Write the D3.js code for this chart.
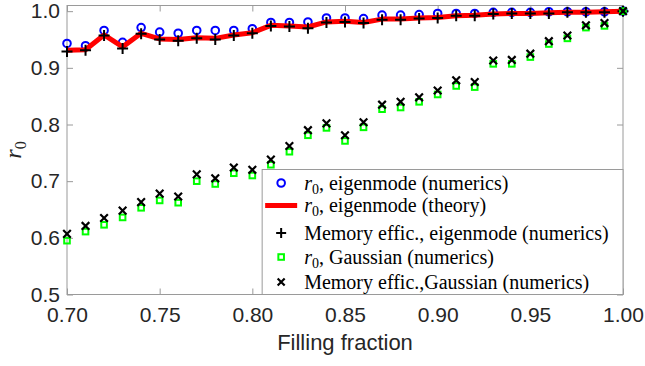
<!DOCTYPE html>
<html>
<head>
<meta charset="utf-8">
<script src="https://cdn.jsdelivr.net/npm/d3@7"></script>
<style>
  body { margin: 0; background: #fff; }
  svg { display: block; }
</style>
</head>
<body>
<div id="chart"></div>
<script>
// filling fraction (x values)
var fillFraction = [0.70, 0.71, 0.72, 0.73, 0.74, 0.75, 0.76, 0.77, 0.78, 0.79, 0.80,
  0.81, 0.82, 0.83, 0.84, 0.85, 0.86, 0.87, 0.88, 0.89, 0.90,
  0.91, 0.92, 0.93, 0.94, 0.95, 0.96, 0.97, 0.98, 0.99, 1.00];

// r0, eigenmode (numerics)
var eigNumerics = [0.943, 0.939, 0.966, 0.945, 0.971, 0.963, 0.961, 0.966, 0.966, 0.966, 0.969,
  0.980, 0.980, 0.981, 0.988, 0.988, 0.987, 0.993, 0.993, 0.994, 0.996,
  0.996, 0.996, 0.998, 0.998, 0.998, 0.999, 0.999, 0.999, 0.999, 1.000];

// r0, eigenmode (theory)
var eigTheory = [0.931, 0.932, 0.958, 0.937, 0.961, 0.951, 0.950, 0.953, 0.952, 0.958, 0.962,
  0.975, 0.974, 0.972, 0.981, 0.982, 0.980, 0.986, 0.986, 0.988, 0.989,
  0.992, 0.993, 0.995, 0.996, 0.996, 0.997, 0.998, 0.998, 0.999, 1.000];

// memory efficiency, eigenmode (numerics)
var memEig = [0.929, 0.931, 0.957, 0.934, 0.960, 0.950, 0.948, 0.952, 0.950, 0.957, 0.961,
  0.974, 0.973, 0.970, 0.980, 0.981, 0.979, 0.985, 0.985, 0.987, 0.988,
  0.992, 0.992, 0.995, 0.996, 0.996, 0.996, 0.998, 0.998, 0.998, 1.000];

// r0, Gaussian (numerics)
var gaussR0 = [0.595, 0.611, 0.623, 0.636, 0.653, 0.666, 0.662, 0.700, 0.695, 0.714, 0.710,
  0.729, 0.752, 0.781, 0.794, 0.771, 0.795, 0.827, 0.830, 0.840, 0.853,
  0.868, 0.866, 0.907, 0.907, 0.919, 0.942, 0.952, 0.971, 0.974, 1.000];

// memory efficiency, Gaussian (numerics)
var memGauss = [0.607, 0.621, 0.635, 0.648, 0.663, 0.678, 0.673, 0.712, 0.705, 0.724, 0.720,
  0.738, 0.762, 0.790, 0.802, 0.781, 0.804, 0.835, 0.840, 0.848, 0.860,
  0.878, 0.875, 0.913, 0.914, 0.925, 0.947, 0.957, 0.975, 0.979, 1.000];

var xTicks = [0.70, 0.75, 0.80, 0.85, 0.90, 0.95, 1.00];
var yTicks = [0.5, 0.6, 0.7, 0.8, 0.9, 1.0];

var legendLabels = [
  { pre: true, text: ", eigenmode (numerics)", mark: "circle" },
  { pre: true, text: ", eigenmode (theory)", mark: "line" },
  { pre: false, text: "Memory effic., eigenmode (numerics)", mark: "plus" },
  { pre: true, text: ", Gaussian (numerics)", mark: "square" },
  { pre: false, text: "Memory effic.,Gaussian (numerics)", mark: "cross" }
];

var W = 645, H = 366;
var margin = { top: 5.5, right: 22, bottom: 71.5, left: 67 };
var width = W - margin.left - margin.right;
var height = H - margin.top - margin.bottom;

var axisColor = "#9a9a9a";
var tickFont = "'Liberation Sans', Arial, sans-serif";
var serifFont = "'Liberation Serif', 'Times New Roman', serif";

var x = d3.scaleLinear().domain([0.70, 1.00]).range([0, width]);
var y = d3.scaleLinear().domain([0.5, 1.01]).range([height, 0]);

var svg = d3.select("#chart").append("svg")
    .attr("width", W)
    .attr("height", H);

var g = svg.append("g")
    .attr("transform", "translate(" + margin.left + "," + margin.top + ")");

// box
g.append("rect")
  .attr("width", width)
  .attr("height", height)
  .attr("fill", "none")
  .attr("stroke", axisColor)
  .attr("stroke-width", 1);

// axes, ticks pointing inward, also mirrored on top / right
var tl = 6;
var axisB = d3.axisBottom(x).tickValues(xTicks).tickFormat(d3.format(".2f")).tickSizeInner(-tl).tickSizeOuter(0).tickPadding(13);
var axisT = d3.axisTop(x).tickValues(xTicks).tickFormat("").tickSizeInner(-tl).tickSizeOuter(0);
var axisL = d3.axisLeft(y).tickValues(yTicks).tickFormat(d3.format(".1f")).tickSizeInner(-tl).tickSizeOuter(0).tickPadding(7);
var axisR = d3.axisRight(y).tickValues(yTicks).tickFormat("").tickSizeInner(-tl).tickSizeOuter(0);

var gB = g.append("g").attr("transform", "translate(0," + height + ")").call(axisB);
var gT = g.append("g").call(axisT);
var gL = g.append("g").call(axisL);
var gR = g.append("g").attr("transform", "translate(" + width + ",0)").call(axisR);

[gB, gT, gL, gR].forEach(function(a) {
  a.select(".domain").remove();
  a.selectAll(".tick line").attr("stroke", axisColor);
  a.selectAll(".tick text")
    .attr("fill", "#262626")
    .attr("font-family", tickFont)
    .attr("font-size", 21);
});

// markers
function plusPath(s) {
  return "M" + (-s) + ",0H" + s + "M0," + (-s) + "V" + s;
}
function crossPath(s) {
  return "M" + (-s) + "," + (-s) + "L" + s + "," + s + "M" + (-s) + "," + s + "L" + s + "," + (-s);
}

var pts = fillFraction.map(function(f, i) {
  return { f: f, eig: eigNumerics[i], th: eigTheory[i], mem: memEig[i], gr: gaussR0[i], mg: memGauss[i] };
});

var plot = g.append("g");

// blue circles
plot.append("g").selectAll("circle")
  .data(pts).enter().append("circle")
  .attr("cx", function(d) { return x(d.f); })
  .attr("cy", function(d) { return y(d.eig); })
  .attr("r", 3.8)
  .attr("fill", "none")
  .attr("stroke", "#0000ff")
  .attr("stroke-width", 2);

// red theory line
var line = d3.line()
  .x(function(d) { return x(d.f); })
  .y(function(d) { return y(d.th); });

plot.append("path")
  .datum(pts)
  .attr("d", line)
  .attr("fill", "none")
  .attr("stroke", "#ff0000")
  .attr("stroke-width", 5)
  .attr("stroke-linejoin", "round");

// black plus
plot.append("g").selectAll("path")
  .data(pts).enter().append("path")
  .attr("transform", function(d) { return "translate(" + x(d.f) + "," + y(d.mem) + ")"; })
  .attr("d", plusPath(5.5))
  .attr("stroke", "#000")
  .attr("stroke-width", 2);

// green squares
plot.append("g").selectAll("rect")
  .data(pts).enter().append("rect")
  .attr("x", function(d) { return x(d.f) - 2.8; })
  .attr("y", function(d) { return y(d.gr) - 2.8; })
  .attr("width", 5.6)
  .attr("height", 5.6)
  .attr("fill", "none")
  .attr("stroke", "#00ff00")
  .attr("stroke-width", 2);

// black crosses
plot.append("g").selectAll("path")
  .data(pts).enter().append("path")
  .attr("transform", function(d) { return "translate(" + x(d.f) + "," + y(d.mg) + ")"; })
  .attr("d", crossPath(3.8))
  .attr("stroke", "#000")
  .attr("stroke-width", 2.2);

// legend
var legX = x(0.8053), legY = 164;
var legW = width - legX, legH = height - legY;
var legend = g.append("g").attr("transform", "translate(" + legX + "," + legY + ")");

legend.append("rect")
  .attr("width", legW)
  .attr("height", legH)
  .attr("fill", "#fff")
  .attr("stroke", axisColor)
  .attr("stroke-width", 1);

var rowY = [13.5, 36, 63.5, 87.5, 112.5];
var markX = 19;

legendLabels.forEach(function(item, i) {
  var row = legend.append("g").attr("transform", "translate(0," + rowY[i] + ")");
  if (item.mark == "circle") {
    row.append("circle").attr("cx", markX).attr("r", 3.8)
      .attr("fill", "none").attr("stroke", "#0000ff").attr("stroke-width", 2);
  } else if (item.mark == "line") {
    row.append("line").attr("x1", 3).attr("x2", 35)
      .attr("stroke", "#ff0000").attr("stroke-width", 5);
  } else if (item.mark == "plus") {
    row.append("path").attr("transform", "translate(" + markX + ",0)")
      .attr("d", plusPath(5)).attr("stroke", "#000").attr("stroke-width", 2);
  } else if (item.mark == "square") {
    row.append("rect").attr("x", markX - 2.8).attr("y", -2.8).attr("width", 5.6).attr("height", 5.6)
      .attr("fill", "none").attr("stroke", "#00ff00").attr("stroke-width", 2);
  } else {
    row.append("path").attr("transform", "translate(" + markX + ",0)")
      .attr("d", crossPath(3.5)).attr("stroke", "#000").attr("stroke-width", 2.2);
  }

  var t = row.append("text")
    .attr("x", 42)
    .attr("y", 6.5)
    .attr("font-family", serifFont)
    .attr("font-size", 20)
    .attr("fill", "#000");
  if (item.pre) {
    t.append("tspan").attr("font-style", "italic").text("r");
    t.append("tspan").attr("font-size", 14).attr("dy", 4).text("0");
    t.append("tspan").attr("dy", -4).text(item.text);
  } else {
    t.text(item.text);
  }
});

// axis labels
svg.append("text")
  .attr("x", margin.left + width / 2)
  .attr("y", 350)
  .attr("text-anchor", "middle")
  .attr("font-family", tickFont)
  .attr("font-size", 22)
  .attr("fill", "#262626")
  .text("Filling fraction");

var yl = svg.append("text")
  .attr("transform", "translate(21," + (margin.top + height / 2) + ") rotate(-90)")
  .attr("text-anchor", "middle")
  .attr("font-family", serifFont)
  .attr("font-size", 24)
  .attr("fill", "#262626");
yl.append("tspan").attr("font-style", "italic").text("r");
yl.append("tspan").attr("font-size", 16).attr("dy", 5).text("0");
</script>
</body>
</html>
